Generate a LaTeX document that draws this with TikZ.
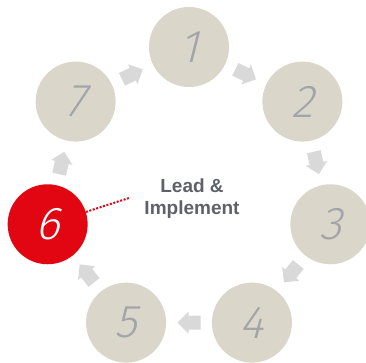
\documentclass[tikz,border=0pt]{standalone}
\usepackage{fontspec}
\setmainfont{Liberation Sans}
\newfontfamily\digitfont{Fira Sans Light}[FakeSlant=0.25]
\definecolor{stepfill}{HTML}{DAD6C9}
\definecolor{stepred}{HTML}{E20613}
\definecolor{digitgray}{HTML}{A2A4AA}
\definecolor{arrowgray}{HTML}{D9D9D9}
\definecolor{textgray}{HTML}{5E6169}
\tikzset{
  x=1pt,y=1pt,
  stepcircle/.style={circle,fill=stepfill,minimum size=80pt,inner sep=0pt,
    font=\digitfont\fontsize{46}{46}\selectfont,text=digitgray},
  activecircle/.style={stepcircle,fill=stepred,text=white},
  flowarrow/.style={fill=arrowgray,draw=none},
  pointer/.style={stepred,line width=2pt,dash pattern=on 2pt off 1.6pt},
}
\begin{document}
\begin{tikzpicture}
\useasboundingbox (-189,-171) rectangle (177,192);
% step circles
\foreach \k/\lab in {0/1,1/2,2/3,3/4,4/5,6/7}{
  \pgfmathsetmacro{\ang}{90-360*\k/7}
  \node[stepcircle] (c\lab) at (\ang:145) {\lab};
}
\node[activecircle] (c6) at ({90-360*5/7}:145) {6};
% arrows between circles
\foreach \k in {0,...,6}{
  \pgfmathsetmacro{\ang}{90-360*(\k+0.5)/7}
  \pgfmathsetmacro{\rot}{\ang-90}
  \begin{scope}[shift={(\ang:130.6)},rotate=\rot]
    \fill[flowarrow] (11.5,0) -- (0.5,11) -- (0.5,7) -- (-11.5,7)
      -- (-11.5,-7) -- (0.5,-7) -- (0.5,-11) -- cycle;
  \end{scope}
}
% centre text
\node[font=\fontsize{19}{22}\selectfont\bfseries,text=textgray,align=center]
  (lead) at (3,-7) {Lead \&\\Implement};
\coordinate (dotend) at (-60,-6);
\draw[pointer] (c6) -- (dotend);
\end{tikzpicture}
\end{document}
